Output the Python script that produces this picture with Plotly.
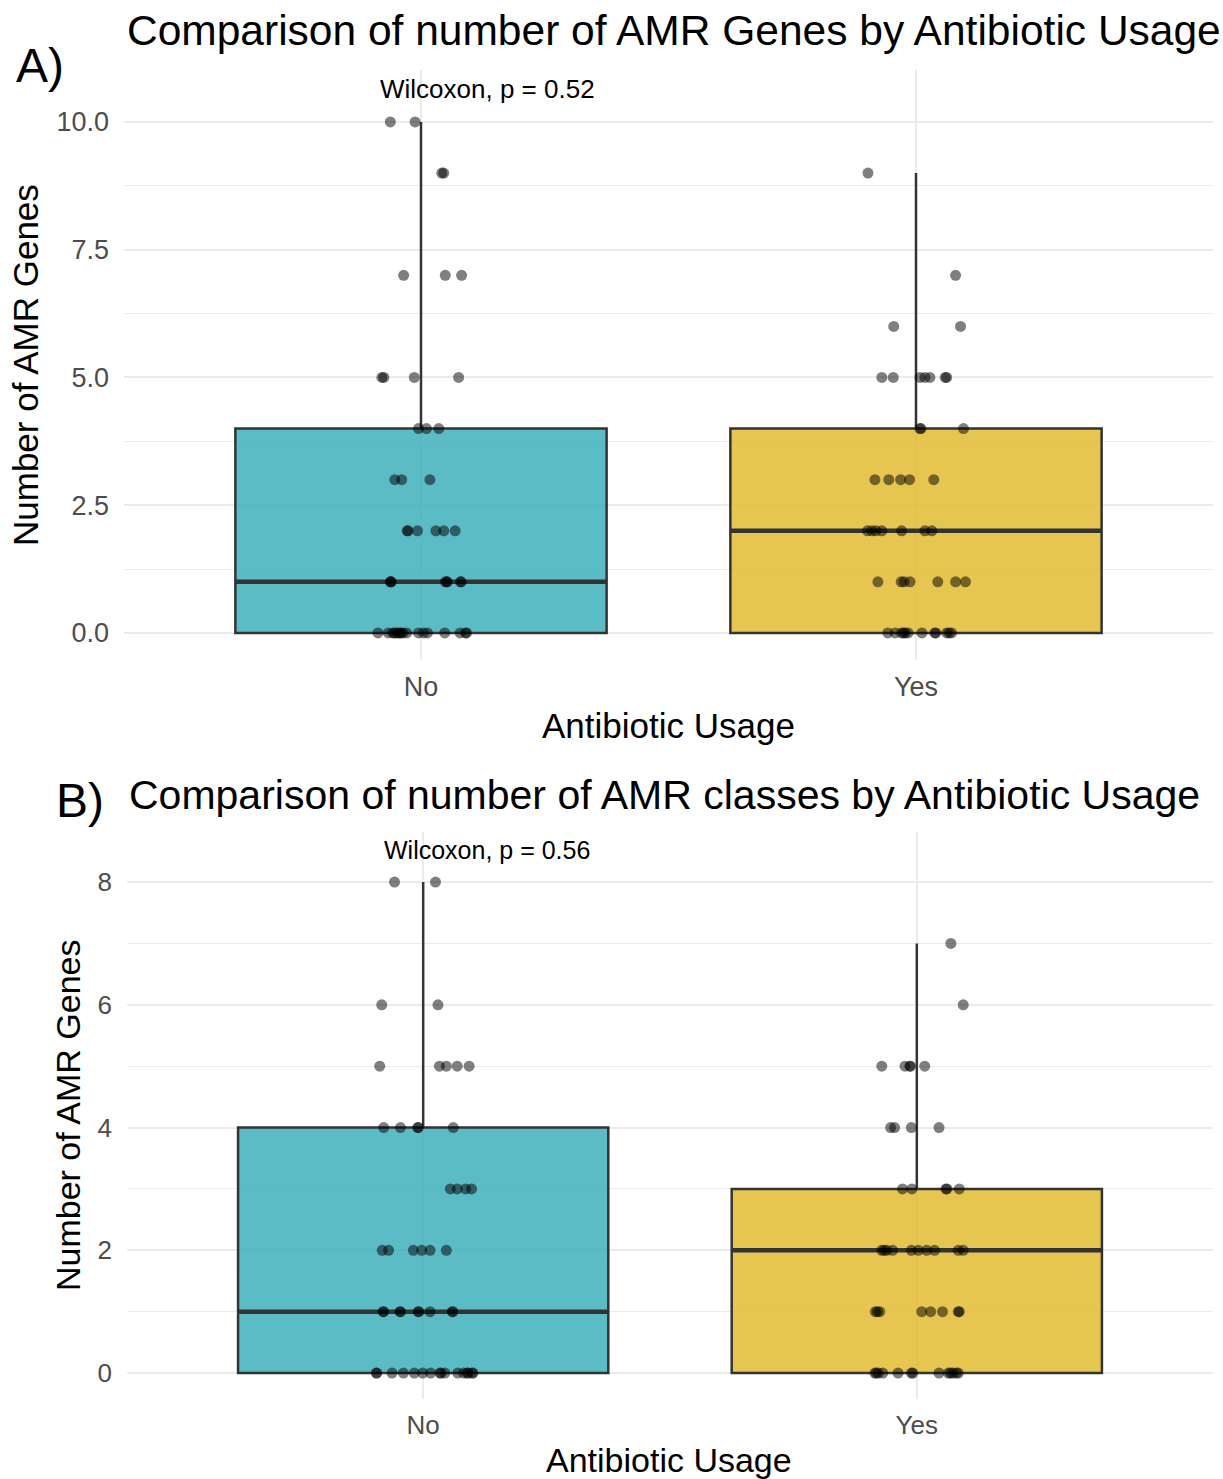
import numpy as np
import plotly.graph_objects as go

# ---------------- data ----------------
categories = ["No", "Yes"]

# Panel A: number of AMR genes
genes_no = [10]*2 + [9]*2 + [7]*3 + [5]*4 + [4]*3 + [3]*3 + [2]*6 + [1]*8 + [0]*17
genes_no_jitter = [-0.062, -0.012,
                   0.042, 0.046,
                   -0.035, 0.049, 0.082,
                   -0.079, -0.075, -0.0135, 0.076,
                   -0.005, 0.011, 0.036,
                   -0.053, -0.039, 0.018,
                   -0.028, -0.026, -0.007, 0.030, 0.046, 0.069,
                   -0.062, -0.060, -0.061, 0.049, 0.052, 0.053, 0.081, 0.080,
                   -0.087, -0.066, -0.057, -0.054, -0.050, -0.046, -0.043, -0.040, -0.036,
                   -0.029, -0.005, 0.005, 0.013, 0.048, 0.079, 0.090, 0.092]

genes_yes = [9] + [7] + [6]*2 + [5]*7 + [4]*3 + [3]*5 + [2]*7 + [1]*7 + [0]*12
genes_yes_jitter = [-0.097,
                    0.080,
                    -0.045, 0.090,
                    -0.069, -0.046, 0.008, 0.018, 0.028, 0.059, 0.062,
                    0.010, 0.096, 0.008,
                    -0.083, -0.055, -0.031, -0.013, 0.036,
                    -0.098, -0.089, -0.081, -0.069, -0.029, 0.018, 0.032,
                    -0.077, -0.030, -0.024, -0.012, 0.044, 0.080, 0.100,
                    -0.057, -0.042, -0.029, -0.025, -0.022, -0.016, 0.012, 0.038, 0.040,
                    0.062, 0.067, 0.072]

# Panel B: number of AMR classes
classes_no = [8]*2 + [6]*2 + [5]*5 + [4]*5 + [3]*4 + [2]*6 + [1]*9 + [0]*16
classes_no_jitter = [-0.058, 0.025,
                     -0.084, 0.030,
                     -0.088, 0.033, 0.047, 0.069, 0.093,
                     -0.080, -0.046, -0.011, 0.061, -0.010,
                     0.055, 0.069, 0.086, 0.098,
                     -0.083, -0.070, -0.020, -0.003, 0.014, 0.047,
                     -0.081, -0.047, -0.009, 0.014, 0.059, -0.080, -0.046, -0.010, 0.060,
                     -0.095, -0.063, -0.040, -0.018, -0.001, 0.015, 0.034, 0.036, 0.044,
                     0.070, 0.082, 0.091, 0.101, -0.094, 0.089, 0.099]

classes_yes = [7] + [6] + [5]*5 + [4]*4 + [3]*5 + [2]*10 + [1]*8 + [0]*13
classes_yes_jitter = [0.069,
                      0.094,
                      -0.071, -0.024, -0.014, -0.013, 0.016,
                      -0.053, -0.045, -0.011, 0.045,
                      -0.029, -0.010, 0.059, 0.061, 0.086,
                      -0.071, -0.066, -0.061, -0.049, -0.011, 0.003, 0.020, 0.036, 0.084, 0.094,
                      -0.084, -0.075, 0.010, 0.028, 0.052, 0.084, 0.086, -0.080,
                      -0.082, -0.078, -0.069, -0.038, -0.011, -0.008, 0.045, 0.064, 0.068,
                      0.073, 0.084, 0.080, -0.085]

p_values = ["0.52", "0.56"]
titles = ["Comparison of number of AMR Genes by Antibiotic Usage",
          "Comparison of number of AMR classes by Antibiotic Usage"]
panel_labels = ["A)", "B)"]
y_titles = ["Number of AMR Genes", "Number of AMR Genes"]
x_title = "Antibiotic Usage"

# ---------------- styles ----------------
W, H = 1223, 1479
FONT = "Liberation Sans, Arial, Helvetica, sans-serif"
fills = ["rgba(63,176,188,0.85)", "rgba(227,187,51,0.85)"]
BOX_LINE = "#333333"
GRID = "#EBEBEB"
TICK_COL = "#4D4D4D"
BOX_W = 0.75


def px(x):
    return x / W


def py(y):
    return 1 - y / H


def box_stats(vals):
    v = np.sort(np.asarray(vals, dtype=float))
    q1, med, q3 = np.percentile(v, [25, 50, 75])
    iqr = q3 - q1
    lf = v[v >= q1 - 1.5 * iqr].min()
    uf = v[v <= q3 + 1.5 * iqr].max()
    return q1, med, q3, lf, uf


fig = go.Figure()

panels = [
    dict(groups=[(genes_no, genes_no_jitter), (genes_yes, genes_yes_jitter)],
         xa="x", ya="y"),
    dict(groups=[(classes_no, classes_no_jitter), (classes_yes, classes_yes_jitter)],
         xa="x2", ya="y2"),
]

for p in panels:
    for gi, (vals, jit) in enumerate(p["groups"]):
        q1, med, q3, lf, uf = box_stats(vals)
        fig.add_trace(go.Box(
            x=[gi], q1=[q1], median=[med], q3=[q3], lowerfence=[lf], upperfence=[uf],
            width=BOX_W, boxpoints=False, whiskerwidth=0,
            fillcolor=fills[gi], line=dict(color=BOX_LINE, width=2.5),
            xaxis=p["xa"], yaxis=p["ya"], showlegend=False, hoverinfo="skip"))
        fig.add_trace(go.Scatter(
            x=[gi - BOX_W / 2, gi + BOX_W / 2], y=[med, med], mode="lines",
            line=dict(color=BOX_LINE, width=4.5),
            xaxis=p["xa"], yaxis=p["ya"], showlegend=False, hoverinfo="skip"))
    for gi, (vals, jit) in enumerate(p["groups"]):
        fig.add_trace(go.Scatter(
            x=[gi + j for j in jit], y=vals, mode="markers",
            marker=dict(size=11, color="rgba(0,0,0,0.5)", line=dict(width=0)),
            xaxis=p["xa"], yaxis=p["ya"], showlegend=False, hoverinfo="skip"))

common_x = dict(range=[-0.6, 1.6], tickmode="array", tickvals=[0, 1], ticktext=categories,
                showgrid=True, gridcolor=GRID, gridwidth=2, zeroline=False, showline=False,
                ticks="", automargin=False, ticklabelstandoff=8)
common_y = dict(showgrid=True, gridcolor=GRID, gridwidth=2, zeroline=False, showline=False,
                ticks="", automargin=False, ticklabelstandoff=14)

fig.update_layout(
    width=W, height=H,
    margin=dict(l=0, r=0, t=0, b=0),
    paper_bgcolor="white", plot_bgcolor="white",
    boxmode="overlay",
    font=dict(family=FONT, color="black"),
    xaxis=dict(common_x, domain=[px(124), px(1213)], anchor="y",
               tickfont=dict(size=27, color=TICK_COL, family=FONT)),
    yaxis=dict(common_y, domain=[py(659.8), py(69.6)], anchor="x",
               range=[-0.525, 11.025], tickmode="linear", tick0=0, dtick=2.5, tickformat=".1f",
               minor=dict(tick0=0, dtick=1.25, showgrid=True, gridcolor=GRID, gridwidth=1),
               tickfont=dict(size=27, color=TICK_COL, family=FONT)),
    xaxis2=dict(common_x, domain=[px(127), px(1213)], anchor="y2",
                tickfont=dict(size=26, color=TICK_COL, family=FONT)),
    yaxis2=dict(common_y, domain=[py(1398.8), py(831.7)], anchor="x2",
                range=[-0.42, 8.82], tickmode="linear", tick0=0, dtick=2, tickformat="d",
                minor=dict(tick0=0, dtick=1, showgrid=True, gridcolor=GRID, gridwidth=1),
                tickfont=dict(size=26, color=TICK_COL, family=FONT)),
)

ann = []
# Panel A
ann.append(dict(text=titles[0], x=px(125), y=py(30), xanchor="left", yanchor="middle",
                font=dict(size=42.5)))
ann.append(dict(text=panel_labels[0], x=px(14), y=py(66), xanchor="left", yanchor="middle",
                font=dict(size=48)))
ann.append(dict(text="Wilcoxon, p = " + p_values[0], x=px(378), y=py(89), xanchor="left",
                yanchor="middle", font=dict(size=26)))
ann.append(dict(text=y_titles[0], x=px(25), y=py(365), textangle=-90, xanchor="center",
                yanchor="middle", font=dict(size=35)))
ann.append(dict(text=x_title, x=px(668), y=py(725), xanchor="center", yanchor="middle",
                font=dict(size=35)))
# Panel B
ann.append(dict(text=titles[1], x=px(127), y=py(795), xanchor="left", yanchor="middle",
                font=dict(size=41)))
ann.append(dict(text=panel_labels[1], x=px(54), y=py(800), xanchor="left", yanchor="middle",
                font=dict(size=48)))
ann.append(dict(text="Wilcoxon, p = " + p_values[1], x=px(382), y=py(850), xanchor="left",
                yanchor="middle", font=dict(size=25)))
ann.append(dict(text=y_titles[1], x=px(68), y=py(1116), textangle=-90, xanchor="center",
                yanchor="middle", font=dict(size=34)))
ann.append(dict(text=x_title, x=px(669), y=py(1460), xanchor="center", yanchor="middle",
                font=dict(size=34)))

for a in ann:
    a.update(xref="paper", yref="paper", showarrow=False)
    a["font"] = dict(a["font"], family=FONT, color="black")
fig.update_layout(annotations=ann)

fig.write_html("out.html", config={"displayModeBar": False},
               post_script="document.body.style.margin='0px';document.body.style.padding='0px';")
